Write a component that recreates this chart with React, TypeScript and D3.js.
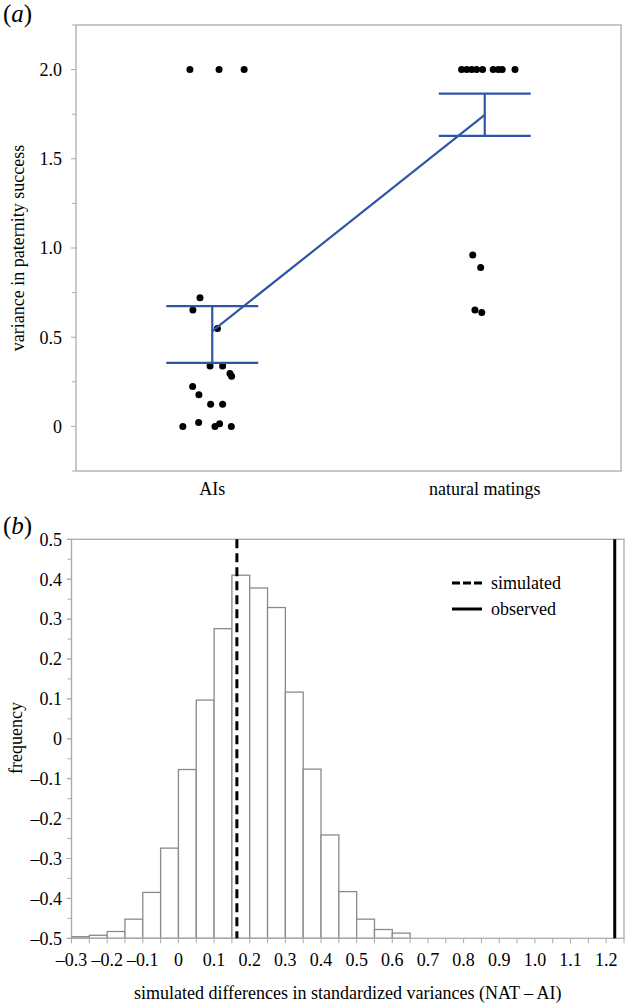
import React from "react";
import * as d3 from "d3";

// ---------- Panel (a) data ----------
const groups = ["AIs", "natural matings"];
// each point: group index, horizontal jitter (in category units), value
const aiValues = [2.0, 2.0, 2.0, 0.721, 0.652, 0.549, 0.339, 0.339, 0.296, 0.281, 0.223, 0.178, 0.124, 0.124, 0, 0.022, 0, 0.015, 0];
const aiJitter = [-0.082, 0.025, 0.117, -0.045, -0.071, 0.019, -0.008, 0.038, 0.065, 0.071, -0.072, -0.049, -0.006, 0.038, -0.108, -0.05, 0.01, 0.027, 0.07];
const natValues = [2.0, 2.0, 2.0, 2.0, 2.0, 2.0, 2.0, 2.0, 2.0, 0.961, 0.89, 0.652, 0.639];
const natJitter = [-0.085, -0.066, -0.048, -0.03, -0.008, 0.031, 0.05, 0.064, 0.111, -0.044, -0.015, -0.036, -0.011];
const groupMeans = [0.534, 1.746];
const groupLower = [0.356, 1.629];
const groupUpper = [0.674, 1.865];
const aTicks = [0, 0.5, 1.0, 1.5, 2.0];
const aTickLabels = ["0", "0.5", "1.0", "1.5", "2.0"];
const aMinorTicks = [-0.25, 0.25, 0.75, 1.25, 1.75, 2.25];

// ---------- Panel (b) data ----------
const binStarts = [-0.3, -0.25, -0.2, -0.15, -0.1, -0.05, 0, 0.05, 0.1, 0.15, 0.2, 0.25, 0.3, 0.35, 0.4, 0.45, 0.5, 0.55, 0.6];
const binTops = [-0.496, -0.4925, -0.483, -0.452, -0.385, -0.274, -0.077, 0.097, 0.276, 0.41, 0.378, 0.329, 0.117, -0.076, -0.241, -0.383, -0.452, -0.478, -0.487];
const binWidth = 0.05;
const simulatedValue = 0.164;
const observedValue = 1.224;
const bYTicks = [0.5, 0.4, 0.3, 0.2, 0.1, 0, -0.1, -0.2, -0.3, -0.4, -0.5];
const bXTicks = [-0.3, -0.2, -0.1, 0, 0.1, 0.2, 0.3, 0.4, 0.5, 0.6, 0.7, 0.8, 0.9, 1.0, 1.1, 1.2];

const FONT = "'Liberation Serif', 'Times New Roman', serif";
const GRAY = "#ababab";
const BLUE = "#2f56a6";

const fmtB = (v: number) => {
  if (Math.abs(v) < 1e-9) return "0";
  const s = Math.abs(v).toFixed(1);
  return v < 0 ? "\u2013" + s : s;
};

export default function App() {
  // Panel (a) scales
  const ax = d3.scaleLinear().domain([-0.5, 1.5]).range([76, 621]);
  const ay = d3.scaleLinear().domain([-0.25, 2.25]).range([471, 25]);
  const capHalf = 46;

  const points: { g: number; j: number; v: number }[] = [];
  aiValues.forEach((v, i) => points.push({ g: 0, j: aiJitter[i], v }));
  natValues.forEach((v, i) => points.push({ g: 1, j: natJitter[i], v }));

  const meanLine = d3
    .line<number>()
    .x((_, i) => ax(i))
    .y((d) => ay(d))(groupMeans);

  // Panel (b) scales
  const bx = d3.scaleLinear().domain([-0.3, 1.25]).range([71.5, 624]);
  const by = d3.scaleLinear().domain([-0.5, 0.5]).range([938.3, 539.3]);
  const bMinorY = d3.range(-0.5, 0.5001, 0.05);
  const bMinorX = d3.range(-0.3, 1.2501, 0.05);

  return (
    <svg
      width={626}
      height={1003}
      style={{ position: "absolute", left: 0, top: 0, background: "#fff" }}
      fontFamily={FONT}
    >
      <rect x={0} y={0} width={626} height={1003} fill="#fff" />
      {/* ===== Panel (a) ===== */}
      <text x={3} y={22} fontSize={25}>
        (<tspan fontStyle="italic">a</tspan>)
      </text>
      <rect
        x={ax(-0.5)}
        y={ay(2.25)}
        width={ax(1.5) - ax(-0.5)}
        height={ay(-0.25) - ay(2.25)}
        fill="none"
        stroke={GRAY}
        strokeWidth={1.3}
      />
      {aMinorTicks.map((t) => (
        <line key={"am" + t} x1={ax(-0.5) - 4} x2={ax(-0.5)} y1={ay(t)} y2={ay(t)} stroke={GRAY} strokeWidth={1} />
      ))}
      {aTicks.map((t, i) => (
        <g key={"at" + t}>
          <line x1={ax(-0.5) - 5} x2={ax(-0.5)} y1={ay(t)} y2={ay(t)} stroke={GRAY} strokeWidth={1} />
          <text x={62} y={ay(t)} dy="0.35em" textAnchor="end" fontSize={18}>
            {aTickLabels[i]}
          </text>
        </g>
      ))}
      <text
        transform={`translate(24,${248}) rotate(-90)`}
        textAnchor="middle"
        fontSize={18}
      >
        variance in paternity success
      </text>
      {groups.map((g, i) => (
        <text key={g} x={ax(i)} y={495} textAnchor="middle" fontSize={18}>
          {g}
        </text>
      ))}
      {points.map((p, i) => (
        <circle key={"pt" + i} cx={ax(p.g + p.j)} cy={ay(p.v)} r={3.5} fill="#000" />
      ))}
      {/* error bars */}
      {groupMeans.map((m, i) => (
        <g key={"eb" + i} stroke={BLUE} strokeWidth={2.2} fill="none">
          <line x1={ax(i)} x2={ax(i)} y1={ay(groupLower[i])} y2={ay(groupUpper[i])} />
          <line x1={ax(i) - capHalf} x2={ax(i) + capHalf} y1={ay(groupLower[i])} y2={ay(groupLower[i])} />
          <line x1={ax(i) - capHalf} x2={ax(i) + capHalf} y1={ay(groupUpper[i])} y2={ay(groupUpper[i])} />
        </g>
      ))}
      <path d={meanLine || ""} stroke={BLUE} strokeWidth={2.2} fill="none" />

      {/* ===== Panel (b) ===== */}
      <text x={3} y={534} fontSize={25}>
        (<tspan fontStyle="italic">b</tspan>)
      </text>
      {/* bars */}
      {binStarts.map((s, i) => (
        <rect
          key={"bar" + i}
          x={bx(s)}
          y={by(binTops[i])}
          width={bx(s + binWidth) - bx(s)}
          height={by(-0.5) - by(binTops[i])}
          fill="#fff"
          stroke="#8a8a8a"
          strokeWidth={1.3}
        />
      ))}
      {/* frame */}
      <rect
        x={bx(-0.3)}
        y={by(0.5)}
        width={bx(1.25) - bx(-0.3)}
        height={by(-0.5) - by(0.5)}
        fill="none"
        stroke={GRAY}
        strokeWidth={1.3}
      />
      {bMinorY.map((t, i) => (
        <line key={"bym" + i} x1={bx(-0.3) - 4} x2={bx(-0.3)} y1={by(t)} y2={by(t)} stroke={GRAY} strokeWidth={1} />
      ))}
      {bYTicks.map((t) => (
        <g key={"byt" + t}>
          <line x1={bx(-0.3) - 5} x2={bx(-0.3)} y1={by(t)} y2={by(t)} stroke={GRAY} strokeWidth={1} />
          <text x={62} y={by(t)} dy="0.35em" textAnchor="end" fontSize={18}>
            {fmtB(t)}
          </text>
        </g>
      ))}
      {bMinorX.map((t, i) => (
        <line key={"bxm" + i} x1={bx(t)} x2={bx(t)} y1={by(-0.5)} y2={by(-0.5) + 5} stroke={GRAY} strokeWidth={1} />
      ))}
      {bXTicks.map((t) => (
        <text key={"bxt" + t} x={bx(t)} y={966} textAnchor="middle" fontSize={18}>
          {fmtB(t)}
        </text>
      ))}
      {/* simulated & observed */}
      <line
        x1={bx(simulatedValue)}
        x2={bx(simulatedValue)}
        y1={by(0.5)}
        y2={by(-0.5)}
        stroke="#000"
        strokeWidth={3}
        strokeDasharray="9,5"
      />
      <line
        x1={bx(observedValue)}
        x2={bx(observedValue)}
        y1={by(0.5)}
        y2={by(-0.5)}
        stroke="#000"
        strokeWidth={3}
      />
      {/* legend */}
      <line x1={452} x2={482} y1={583} y2={583} stroke="#000" strokeWidth={3} strokeDasharray="8,3" />
      <text x={491} y={589} fontSize={18}>simulated</text>
      <line x1={452} x2={482} y1={609} y2={609} stroke="#000" strokeWidth={3} />
      <text x={491} y={615} fontSize={18}>observed</text>
      <text transform={`translate(22,${738}) rotate(-90)`} textAnchor="middle" fontSize={18}>
        frequency
      </text>
      <text x={(bx(-0.3) + bx(1.25)) / 2} y={999} textAnchor="middle" fontSize={18}>
        simulated differences in standardized variances (NAT – AI)
      </text>
    </svg>
  );
}
